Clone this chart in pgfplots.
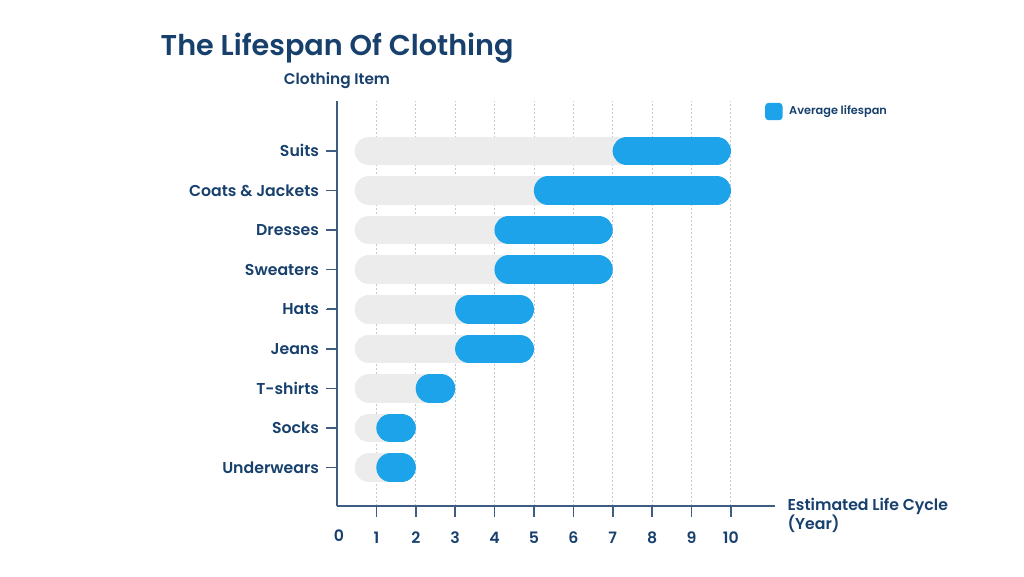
\documentclass[border=0pt]{standalone}
\usepackage{pgfplots}
\pgfplotsset{compat=1.18}
\usetikzlibrary{calc}
\usepackage{fontspec}
\setmainfont{Poppins}[BoldFont={Poppins SemiBold}]
\definecolor{navy}{HTML}{17406D}
\definecolor{axisc}{HTML}{3F5C82}
\definecolor{barblue}{HTML}{1DA3EA}
\definecolor{bargrey}{HTML}{ECECEC}
\definecolor{gridc}{HTML}{C8C8C8}
\begin{document}
\begin{tikzpicture}
\useasboundingbox (0,0) rectangle (768pt,432pt);
\node[anchor=west, font=\fontsize{21.5}{26}\selectfont\bfseries, text=navy] at (117pt,396pt) {The Lifespan Of Clothing};
\begin{axis}[
  name=ax,
  at={(252.75pt,52.5pt)}, anchor=south west,
  scale only axis, width=328.5pt, height=303.75pt,
  xmin=0, xmax=11.12, ymin=-0.97, ymax=9.26,
  axis x line*=bottom, axis y line*=left,
  axis line style={draw=axisc, line width=1.1pt},
  tick align=outside,
  major tick length=8pt,
  tick style={axisc, solid, line width=1.1pt},
  xtick={1,2,3,4,5,6,7,8,9,10},
  ytick={0,1,2,3,4,5,6,7,8},
  yticklabels={Underwears,Socks,T-shirts,Jeans,Hats,Sweaters,Dresses,Coats \& Jackets,Suits},
  xmajorgrids,
  major grid style={draw=gridc, dash pattern=on 1.5pt off 1.5pt, line width=0.6pt},
  /pgf/number format/assume math mode=true,
  ticklabel style={font=\fontsize{11.8}{13}\selectfont\bfseries, text=navy},
  xticklabel style={yshift=-8pt},
  yticklabel style={xshift=-2pt},
  clip=false,
  legend style={at={(0.977,0.974)}, anchor=west, draw=none, fill=none, inner xsep=0pt, inner ysep=0pt,
    font=\fontsize{8.5}{10}\selectfont\bfseries, text=navy},
  legend cell align=left,
]
% grey background bars: outer left edge, start of blue (line cap offset applied)
\addplot[bargrey, line width=21.4pt, line cap=round, forget plot, unbounded coords=jump]
  table[x expr=\thisrow{x}+\thisrow{s}*0.36, y=y] {
x y s
0.45 8 1
7 8 1
nan nan 0
0.45 7 1
5 7 1
nan nan 0
0.45 6 1
4 6 1
nan nan 0
0.45 5 1
4 5 1
nan nan 0
0.45 4 1
3 4 1
nan nan 0
0.45 3 1
3 3 1
nan nan 0
0.45 2 1
2 2 1
nan nan 0
0.45 1 1
1 1 1
nan nan 0
0.45 0 1
1 0 1
};
% average lifespan bars: start, end (outer edges)
\addplot[barblue, line width=21.4pt, line cap=round, unbounded coords=jump,
  legend image code/.code={\path[fill=barblue, draw=none, line width=0pt, rounded corners=2.5pt] (0pt,-6.5pt) rectangle (13pt,6.5pt);}]
  table[x expr=\thisrow{x}+\thisrow{s}*0.36, y=y] {
x y s
7 8 1
10 8 -1
nan nan 0
5 7 1
10 7 -1
nan nan 0
4 6 1
7 6 -1
nan nan 0
4 5 1
7 5 -1
nan nan 0
3 4 1
5 4 -1
nan nan 0
3 3 1
5 3 -1
nan nan 0
2 2 1
3 2 -1
nan nan 0
1 1 1
2 1 -1
nan nan 0
1 0 1
2 0 -1
};
\addlegendentry{\hspace{3pt}Average lifespan}
\node[anchor=south, font=\fontsize{11.5}{13}\selectfont\bfseries, text=navy] at (rel axis cs:0,1.02) {Clothing Item};
\node[anchor=north, font=\fontsize{11.8}{13}\selectfont\bfseries, text=navy] at ([yshift=-14.5pt]axis cs:0.05,-0.97) {0};
\node[anchor=north west, align=left, font=\fontsize{11.8}{14}\selectfont\bfseries, text=navy] at (rel axis cs:1.018,0.03) {Estimated Life Cycle\\(Year)};
\end{axis}
% tick marks drawn as small filled rectangles on top of the finished axis
\foreach \i in {1,...,10} {
  \fill[fill=axisc, draw=none, solid] ($(ax.south west)!{\i/11.12}!(ax.south east)$) ++(-0.6pt,0pt) rectangle ++(1.2pt,-8.5pt);
}
\foreach \j in {0,...,8} {
  \fill[fill=axisc, draw=none, solid] ($(ax.south west)!{(\j+0.97)/10.23}!(ax.north west)$) ++(0pt,-0.6pt) rectangle ++(-7.5pt,1.2pt);
}
\end{tikzpicture}
\end{document}
